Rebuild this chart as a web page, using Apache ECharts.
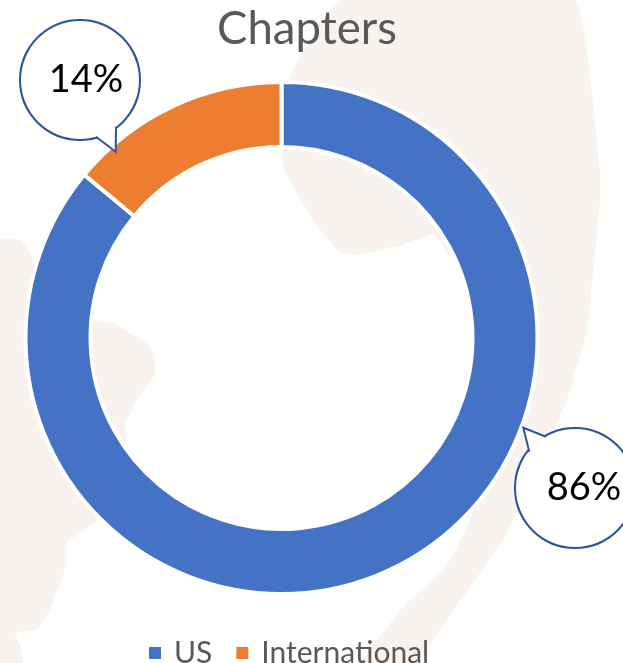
<!DOCTYPE html>
<html>
<head>
<meta charset="utf-8">
<style>html,body{margin:0;padding:0;background:#fff}#chart{width:623px;height:663px}</style>
<script src="https://cdn.jsdelivr.net/npm/echarts@6/dist/echarts.min.js"></script>
</head>
<body>
<div id="chart"></div>
<script>
var categories = ['US', 'International'];
var values = [86, 14];
var colors = ['#4472C4', '#ED7D31'];

var FONT = 'Lato, "Open Sans", sans-serif';
var BLOB = '#F9F3EF';
var LINE = '#2F5597';

// faint map behind the chart
var rightLand = [[340,0],[318,25],[290,77],[284,130],[283,167],[298,195],[313,220],[337,250],[353,255],[403,245],[433,235],[452,258],[480,330],[490,420],[472,515],[447,565],[403,607],[377,640],[360,663],[415,663],[433,640],[473,583],[503,540],[550,443],[567,400],[587,330],[600,200],[600,170],[575,0]];
var leftLand = [[0,240],[20,240],[30,252],[34,265],[40,330],[60,470],[97,520],[70,540],[65,548],[67,560],[62,580],[50,610],[37,630],[18,632],[15,633],[22,650],[22,663],[0,663]];
var innerLand = [[92,320],[117,325],[150,345],[155,360],[155,375],[140,395],[125,425],[127,445],[130,455],[100,400],[88,350]];

function land(points) {
  return { type: 'polygon', z: -10, silent: true, shape: { points: points, smooth: 0.1 }, style: { fill: BLOB } };
}

// callout tail: white patch hides the circle outline, then the two strokes
function tail(a, tip, b) {
  return [
    { type: 'polygon', z: 50, silent: true, shape: { points: [a, tip, b] }, style: { fill: '#fff' } },
    { type: 'polyline', z: 51, silent: true, shape: { points: [a, tip, b] }, style: { stroke: LINE, lineWidth: 2, fill: null } }
  ];
}

var labelSpots = [{ x: 575, y: 488 }, { x: 80, y: 80 }];
var labelInsets = [18, 12];

var chart = echarts.init(document.getElementById('chart'));
chart.setOption({
  animation: false,
  color: colors,
  title: {
    text: 'Chapters', left: 212, top: 1,
    textStyle: { fontFamily: FONT, fontSize: 45.5, fontWeight: 'normal', color: '#595959' }
  },
  legend: {
    data: categories, left: 142, top: 633, itemWidth: 14, itemHeight: 14, itemGap: 22, icon: 'rect',
    textStyle: { fontFamily: FONT, fontSize: 30, color: '#595959', padding: [0, 0, 0, 7] }
  },
  graphic: [land(rightLand), land(leftLand), land(innerLand)]
    .concat(tail([96, 136.7], [115.7, 151.7], [116, 126.7]))
    .concat(tail([546, 436.7], [523.3, 427.7], [529.3, 451.7])),
  series: [{
    type: 'pie',
    center: [281.5, 338],
    radius: [191, 256],
    startAngle: 90,
    itemStyle: { borderColor: '#fff', borderWidth: 4 },
    data: categories.map(function (c, i) {
      return {
        name: c, value: values[i],
        label: { width: 118 - labelInsets[i], padding: [12, 0, 0, labelInsets[i]] }
      };
    }),
    emphasis: { disabled: true },
    labelLine: { show: false },
    label: {
      show: true, position: 'outside', formatter: '{d}%',
      fontFamily: FONT, fontSize: 38, color: '#000',
      height: 106, lineHeight: 106, align: 'center', verticalAlign: 'middle',
      backgroundColor: '#fff', borderColor: LINE, borderWidth: 2, borderRadius: 60
    },
    labelLayout: function (p) {
      var s = labelSpots[p.dataIndex];
      return { x: s.x, y: s.y, align: 'center', verticalAlign: 'middle', hideOverlap: false, moveOverlap: null };
    }
  }]
});
</script>
</body>
</html>
